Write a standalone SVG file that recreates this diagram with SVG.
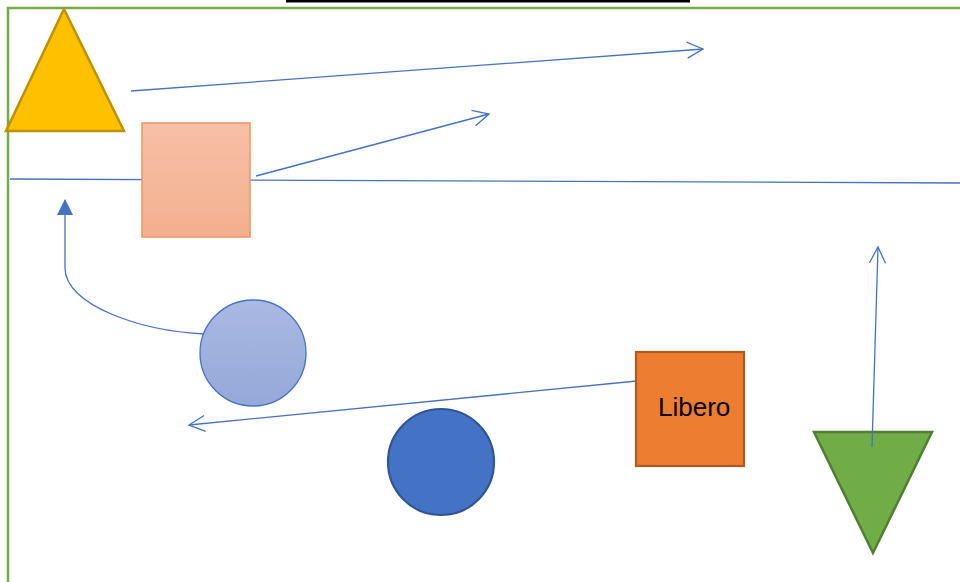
<svg xmlns="http://www.w3.org/2000/svg" width="960" height="582" viewBox="0 0 960 582">
<style>
.conn{fill:none;stroke:#4472C4;stroke-width:1.3}
.lbl{font-family:"Liberation Sans",Arial,sans-serif;font-size:26px;fill:#000}
</style>
<defs>
<linearGradient id="gPink" x1="0" y1="0" x2="0" y2="1"><stop offset="0" stop-color="#F7C0A6"/><stop offset="1" stop-color="#F3AF8F"/></linearGradient>
<linearGradient id="gBlue" x1="0" y1="0" x2="0" y2="1"><stop offset="0" stop-color="#AAB9E3"/><stop offset="1" stop-color="#95A8D8"/></linearGradient>
<marker id="open" viewBox="0 0 20 20" refX="18" refY="10" markerWidth="20" markerHeight="20" markerUnits="userSpaceOnUse" orient="auto">
<path d="M2,2 L18,10 L2,18" fill="none" stroke="#4472C4" stroke-width="1.3"/>
</marker>
<marker id="solid" viewBox="0 0 16 16" refX="15" refY="8" markerWidth="16" markerHeight="16" markerUnits="userSpaceOnUse" orient="auto">
<path d="M0,0 L16,8 L0,16 Z" fill="#4472C4"/>
</marker>
</defs>
<rect width="960" height="582" fill="#fff"/>
<rect id="topbar" x="286" y="0" width="404" height="2.5" fill="#000"/>
<rect id="frame" x="8" y="8" width="970" height="600" fill="none" stroke="#70AD47" stroke-width="2.5"/>
<g id="greenTriangle"><polygon points="814,432 932,432 873,553" fill="#70AD47" stroke="#507E32" stroke-width="2.5"/></g>
<g id="connectors">
<line class="conn" x1="10" y1="179" x2="960" y2="183"/>
<line class="conn" x1="131" y1="91" x2="703" y2="49" marker-end="url(#open)"/>
<line class="conn" x1="256" y1="176" x2="489" y2="114" marker-end="url(#open)"/>
<path class="conn" d="M205,334 C140,331 65,305 65,268 L65,200" marker-end="url(#solid)"/>
<line class="conn" x1="637" y1="381" x2="189" y2="425" marker-end="url(#open)"/>
<line class="conn" x1="872" y1="447" x2="878" y2="247" marker-end="url(#open)"/>
</g>
<g id="yellowTriangle"><polygon points="64,9 6,131 124,131" fill="#FFC000" stroke="#BF9000" stroke-width="2.5"/></g>
<g id="pinkSquare"><rect x="142" y="123" width="108" height="114" fill="url(#gPink)" stroke="#F0955B" stroke-width="1.5"/></g>
<g id="lightCircle"><circle cx="253" cy="353" r="53" fill="url(#gBlue)" stroke="#4472C4" stroke-width="1.3"/></g>
<g id="blueCircle"><circle cx="441" cy="462" r="53" fill="#4472C4" stroke="#2F5597" stroke-width="2.2"/></g>
<g id="libero"><rect x="636" y="352" width="108" height="114" fill="#ED7D31" stroke="#AE5A21" stroke-width="2.2"/><text class="lbl" x="658" y="416">Libero</text></g>
</svg>
